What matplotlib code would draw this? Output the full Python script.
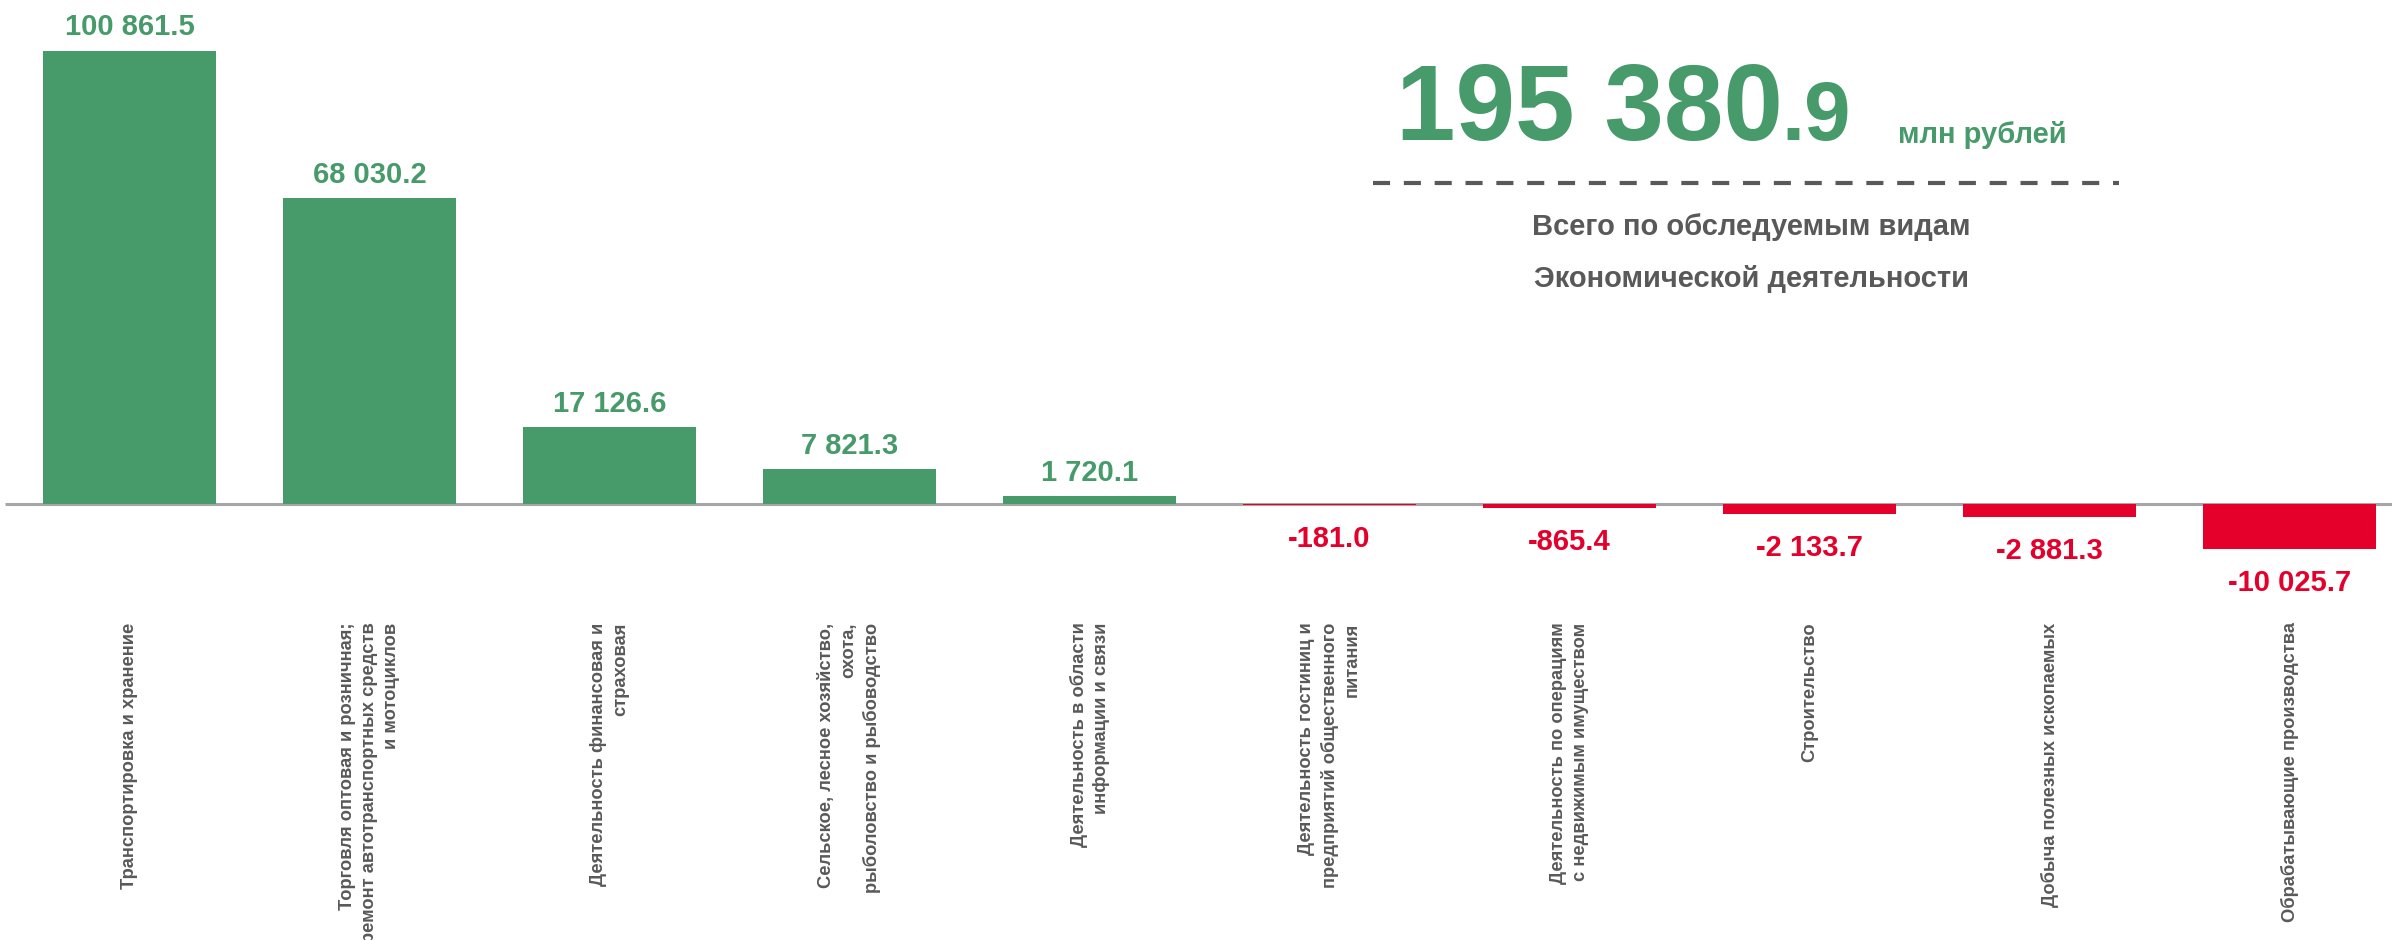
import matplotlib
matplotlib.use("Agg")
import matplotlib.pyplot as plt
import numpy as np

plt.rcParams["font.family"] = ["Liberation Sans", "DejaVu Sans"]

GREEN = "#479A69"
RED = "#E4002B"
GREY = "#595959"
AXIS = "#A6A6A6"

categories = [
    "Транспортировка и хранение",
    "Торговля оптовая и розничная;\nремонт автотранспортных средств\nи мотоциклов",
    "Деятельность финансовая и\nстраховая",
    "Сельское, лесное хозяйство,\nохота,\nрыболовство и рыбоводство",
    "Деятельность в области\nинформации и связи",
    "Деятельность гостиниц и\nпредприятий общественного\nпитания",
    "Деятельность по операциям\nс недвижимым имуществом",
    "Строительство",
    "Добыча полезных ископаемых",
    "Обрабатывающие производства",
]
values = [100861.5, 68030.2, 17126.6, 7821.3, 1720.1,
          -181.0, -865.4, -2133.7, -2881.3, -10025.7]
total = "195 380"
total_dec = ".9"
unit = "млн рублей"
subtitle = "Всего по обследуемым видам\nЭкономической деятельности"

W, H = 2392, 940
fig = plt.figure(figsize=(W / 100, H / 100), dpi=100)
# axes from top of figure down to pixel 610
ax = fig.add_axes([0, (H - 610) / H, 1, 610 / H])

x = np.arange(len(values))
colors = [GREEN if v >= 0 else RED for v in values]
ax.bar(x, values, width=0.72, color=colors, zorder=2)
ax.hlines(0, -0.52, 9.5, color=AXIS, lw=2.2, zorder=1)

ax.set_xlim(-0.54, 9.427)
ax.set_ylim(-23585, 112140)

for xi, v in zip(x, values):
    txt = f"{v:,.1f}".replace(",", " ")
    if v >= 0:
        ax.annotate(txt, (xi, v), xytext=(0, 11), textcoords="offset points",
                    ha="center", va="baseline", fontsize=21, weight="bold", color=GREEN)
    else:
        ax.annotate(txt, (xi, v), xytext=(0, -30.5), textcoords="offset points",
                    ha="center", va="baseline", fontsize=21, weight="bold", color=RED)

ax.set_xticks(x, categories, rotation=90, ha="center", va="top",
              multialignment="right", fontsize=13.2, weight="bold", color=GREY,
              linespacing=1.38)
ax.tick_params(axis="x", length=0, pad=9)
ax.set_yticks([])
for s in ax.spines.values():
    s.set_visible(False)

# headline total
fig.text(1783 / W, 1 - 140 / H, total, ha="right", va="baseline",
         fontsize=77, weight="bold", color=GREEN)
fig.text(1781 / W, 1 - 140 / H, total_dec, ha="left", va="baseline",
         fontsize=60, weight="bold", color=GREEN)
fig.text(1898 / W, 1 - 143 / H, unit, ha="left", va="baseline",
         fontsize=21, weight="bold", color=GREEN)
fig.add_artist(plt.Line2D([1373 / W, 2119 / W], [1 - 183 / H] * 2,
                          transform=fig.transFigure, color=GREY, lw=3,
                          dashes=(4.1, 3.3)))
line1, line2 = subtitle.split("\n")
fig.text(1751 / W, 1 - 235 / H, line1, ha="center", va="baseline",
         fontsize=21, weight="bold", color=GREY)
fig.text(1751 / W, 1 - 287 / H, line2, ha="center", va="baseline",
         fontsize=21, weight="bold", color=GREY)

fig.savefig("out.png", dpi=100, facecolor="white")
